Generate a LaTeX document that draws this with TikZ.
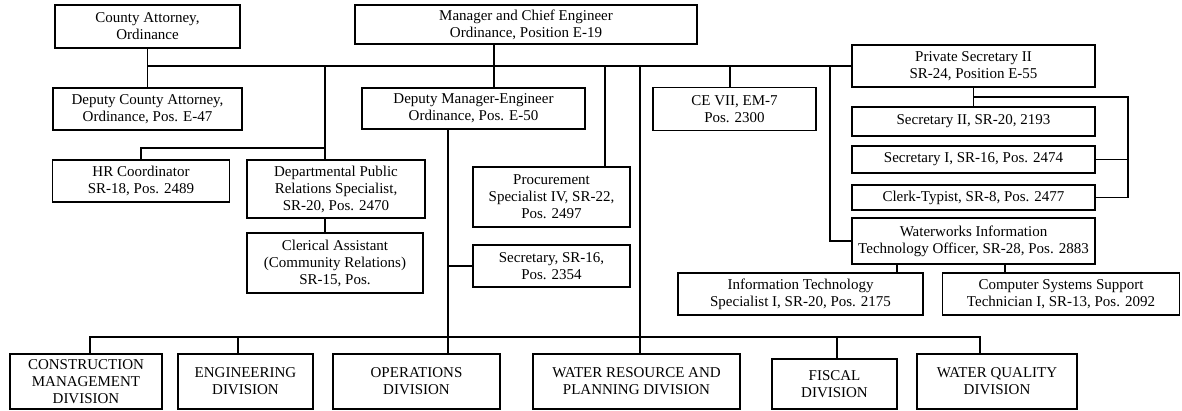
\documentclass[tikz,border=0pt]{standalone}
\usepackage{fontspec}
\setmainfont{Liberation Serif}
\begin{document}
\begin{tikzpicture}[x=1pt,y=-1pt,
  box/.style={draw=black, line width=1.1pt, fill=white, align=center, inner xsep=2pt, inner ysep=1pt,
    font=\fontsize{15}{17}\selectfont},
  wire/.style={draw=black, line width=1.1pt}]
\useasboundingbox (0,0) rectangle (1182,410);
% top row
\node[box, minimum width=185pt, minimum height=43pt] (ca) at (147.5,26.5) {County Attorney,\\Ordinance};
\node[box, minimum width=342pt, minimum height=39pt] (mgr) at (526,24.5) {Manager and Chief Engineer\\Ordinance, Position E-19};
\node[box, minimum width=189pt, minimum height=42pt] (dca) at (147.5,109) {Deputy County Attorney,\\Ordinance, Pos. E-47};
\node[box, minimum width=223pt, minimum height=41pt] (dme) at (473.5,108.5) {Deputy Manager-Engineer\\Ordinance, Pos. E-50};
\node[box, minimum width=163pt, minimum height=43pt] (ce) at (734.5,109) {CE VII, EM-7\\Pos. 2300};
\node[box, minimum width=243pt, minimum height=42pt] (ps) at (973.5,66) {Private Secretary II\\SR-24, Position E-55};
\node[box, minimum width=243pt, minimum height=29pt] (s2) at (973.5,121.5) {Secretary II, SR-20, 2193};
\node[box, minimum width=243pt, minimum height=27pt] (s1) at (973.5,159.5) {Secretary I, SR-16, Pos. 2474};
\node[box, minimum width=243pt, minimum height=25pt] (ct) at (973.5,197.5) {Clerk-Typist, SR-8, Pos. 2477};
\node[box, minimum width=243pt, minimum height=46pt] (wit) at (973.5,241) {Waterworks Information\\Technology Officer, SR-28, Pos. 2883};
\node[box, minimum width=245pt, minimum height=42pt] (its) at (800.5,294) {Information Technology\\Specialist I, SR-20, Pos. 2175};
\node[box, minimum width=237pt, minimum height=42pt] (css) at (1061,294) {Computer Systems Support\\Technician I, SR-13, Pos. 2092};
% middle
\node[box, minimum width=177pt, minimum height=42pt] (hr) at (141,181) {HR Coordinator\\SR-18, Pos. 2489};
\node[box, minimum width=178pt, minimum height=58pt] (dpr) at (336,189) {Departmental Public\\Relations Specialist,\\SR-20, Pos. 2470};
\node[box, minimum width=176pt, minimum height=60pt] (cla) at (335,263) {Clerical Assistant\\(Community Relations)\\SR-15, Pos.};
\node[box, minimum width=157pt, minimum height=60pt] (proc) at (551.5,197) {Procurement\\Specialist IV, SR-22,\\Pos. 2497};
\node[box, minimum width=157pt, minimum height=42pt] (sec) at (551.5,266) {Secretary, SR-16,\\Pos. 2354};
% divisions
\node[box, minimum width=152pt, minimum height=55pt] (cmd) at (86,381.5) {CONSTRUCTION\\MANAGEMENT\\DIVISION};
\node[box, minimum width=135pt, minimum height=55pt] (eng) at (245.5,381.5) {ENGINEERING\\DIVISION};
\node[box, minimum width=167pt, minimum height=55pt] (ops) at (416.5,381.5) {OPERATIONS\\DIVISION};
\node[box, minimum width=207pt, minimum height=55pt] (wrp) at (636.5,381.5) {WATER RESOURCE AND\\PLANNING DIVISION};
\node[box, minimum width=125pt, minimum height=50pt] (fis) at (834.5,384) {FISCAL\\DIVISION};
\node[box, minimum width=160pt, minimum height=55pt] (wq) at (997,381.5) {WATER QUALITY\\DIVISION};
% junction x positions
\coordinate (xm) at (494,0);
\coordinate (xpr) at (325,0);
\coordinate (jhr) at (325,148);
\coordinate (xo) at (448,0);
\coordinate (xp) at (605,0);
\coordinate (xw) at (640,0);
\coordinate (xce) at (730,0);
\coordinate (xwit) at (830,0);
\coordinate (br) at (1128,97);
\coordinate (bl) at (90,337);
\coordinate (bre) at (980,337);
\coordinate (xe) at (238,0);
\coordinate (xf) at (837,0);
\coordinate (xi) at (897,0);
\coordinate (xc) at (1005,0);
% connectors
\draw[wire] (ca.south) -- (dca.north);
\draw[wire] (ca.south |- ps.west) -- (ps.west);
\draw[wire] (mgr.south -| xm) -- (dme.north -| xm);
\draw[wire] (ps.west -| xpr) -- (dpr.north -| xpr);
\draw[wire] (hr.north) |- (jhr);
\draw[wire] (dpr.south -| xpr) -- (cla.north -| xpr);
\draw[wire] (dme.south -| xo) -- (ops.north -| xo);
\draw[wire] (sec.west) -- (sec.west -| xo);
\draw[wire] (ps.west -| xp) -- (proc.north -| xp);
\draw[wire] (ps.west -| xw) -- (wrp.north -| xw);
\draw[wire] (ps.west -| xce) -- (ce.north -| xce);
\draw[wire] (ps.west -| xwit) |- (wit.west);
\draw[wire] (ps.south) -- (s2.north);
\draw[wire] (ps.south |- br) -- (br) |- (ct.east);
\draw[wire] (s1.east) -- (s1.east -| br);
\draw[wire] (wit.south -| xi) -- (its.north -| xi);
\draw[wire] (wit.south -| xc) -- (css.north -| xc);
\draw[wire] (cmd.north -| bl) -- (bl) -- (bre) -- (wq.north -| bre);
\draw[wire] (bl -| xe) -- (eng.north -| xe);
\draw[wire] (bl -| xf) -- (fis.north -| xf);
\end{tikzpicture}
\end{document}
